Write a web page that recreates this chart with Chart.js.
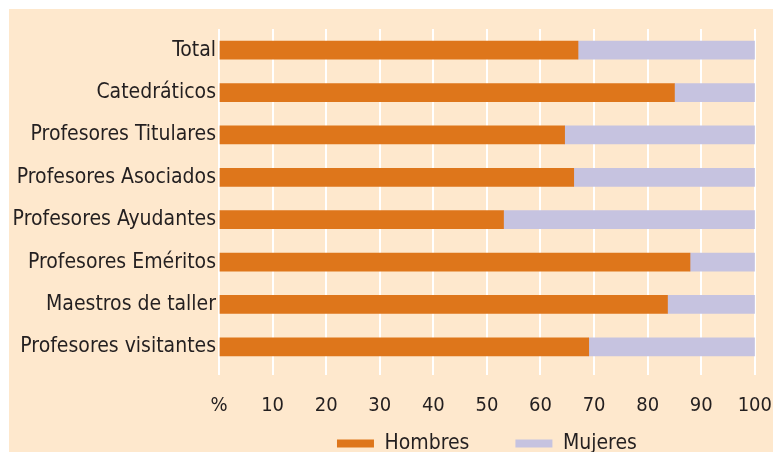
<!DOCTYPE html>
<html><head><meta charset="utf-8">
<script src="https://cdn.jsdelivr.net/npm/chart.js@4"></script>
<style>
html,body{margin:0;padding:0;background:#fff;overflow:hidden;width:773px;height:452px}
#wrap{position:absolute;left:9px;top:9px;width:764px;height:443px;background:#fee8cd;overflow:hidden}
#c{display:block}
</style></head><body>
<div id="wrap"><canvas id="c" width="782" height="488"></canvas></div>
<script>
const categories = ['Total', 'Catedráticos', 'Profesores Titulares', 'Profesores Asociados', 'Profesores Ayudantes', 'Profesores Eméritos', 'Maestros de taller', 'Profesores visitantes'];
const hombres = [67, 85, 64.5, 66.2, 53.1, 87.9, 83.7, 69];
const mujeres = [33, 15, 35.5, 33.8, 46.9, 12.1, 16.3, 31];
const xTickLabels = ['%', '10', '20', '30', '40', '50', '60', '70', '80', '90', '100'];
const seriesNames = ['Hombres', 'Mujeres'];

const FONT = "'DejaVu Sans Condensed', 'Liberation Sans Narrow', sans-serif";
const TXT = '#231f20';

// Pull the legend up so it sits close under the axis labels
const legendShift = {
  id: 'legendShift',
  afterLayout(chart) {
    const lg = chart.legend;
    if (lg) { lg.top -= 33; lg.bottom -= 33; }
  }
};

new Chart(document.getElementById('c'), {
  type: 'bar',
  data: {
    labels: categories,
    datasets: [
      { label: seriesNames[0], data: hombres, backgroundColor: '#de761b', barThickness: 18 },
      { label: seriesNames[1], data: mujeres, backgroundColor: '#c6c3e0', barThickness: 18 }
    ]
  },
  options: {
    indexAxis: 'y',
    responsive: false,
    animation: false,
    devicePixelRatio: 1,
    layout: { padding: { top: 20, right: 0, left: 0, bottom: 0 } },
    scales: {
      x: {
        stacked: true, min: 0, max: 100,
        border: { display: false },
        grid: { color: '#ffffff', lineWidth: 2, tickLength: 7, drawTicks: true },
        ticks: {
          stepSize: 10, color: TXT, padding: 19, autoSkip: false, maxRotation: 0,
          font: { family: FONT, size: 20 },
          callback: (v, i) => xTickLabels[i]
        },
        afterFit: s => { s.height = 52; }
      },
      y: {
        stacked: true,
        border: { display: false },
        grid: { display: false, drawTicks: false },
        ticks: { color: TXT, padding: 3, font: { family: FONT, size: 21 } },
        afterFit: s => { s.width = 210; }
      }
    },
    plugins: {
      tooltip: { enabled: false },
      legend: {
        position: 'bottom',
        fullSize: false,
        labels: {
          color: TXT, boxWidth: 37, boxHeight: 8, padding: 46,
          font: { family: FONT, size: 21 }
        }
      }
    }
  },
  plugins: [legendShift]
});
</script>
</body></html>
